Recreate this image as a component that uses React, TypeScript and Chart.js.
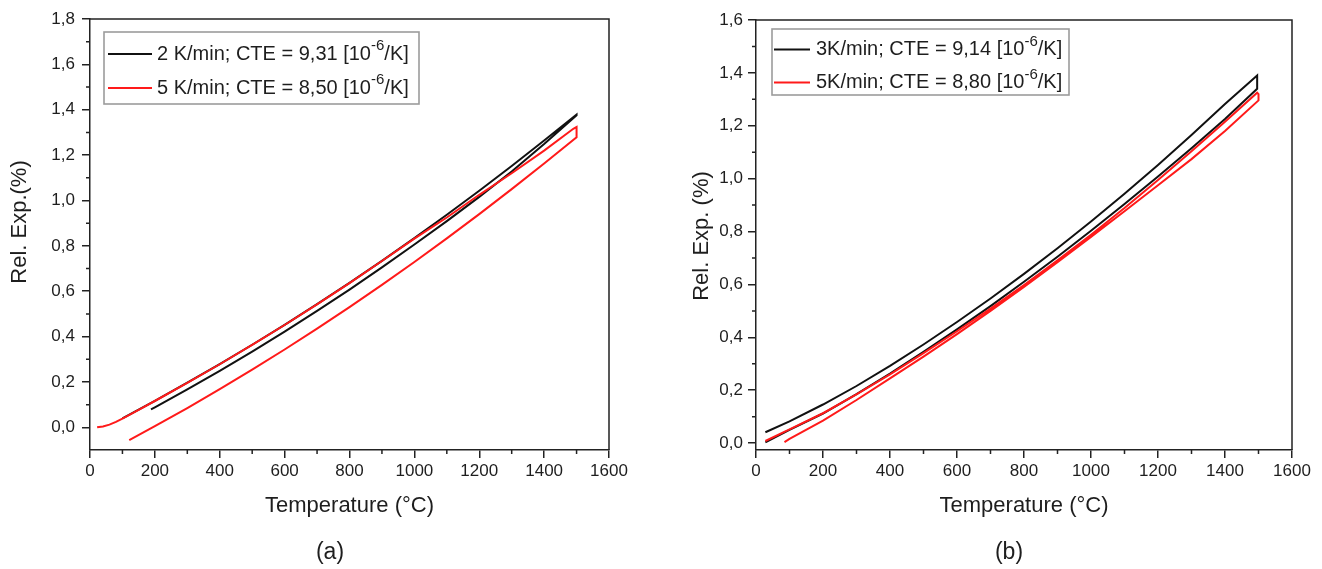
import React, { useEffect, useRef } from "react";
import { Chart, registerables } from "chart.js";

Chart.register(...registerables);

// ---------------- Data: chart (a) ----------------
const A_X_TICKS = [0, 200, 400, 600, 800, 1000, 1200, 1400, 1600];
const A_X_MINOR = [100, 300, 500, 700, 900, 1100, 1300, 1500];
const A_Y_TICKS = [0, 0.2, 0.4, 0.6, 0.8, 1.0, 1.2, 1.4, 1.6, 1.8];
const A_Y_MINOR = [0.1, 0.3, 0.5, 0.7, 0.9, 1.1, 1.3, 1.5, 1.7];

// 2 K/min (black): heating then cooling
const A_BLACK_T = [100, 150, 200, 300, 400, 500, 600, 700, 800, 900, 1000, 1100, 1200, 1300, 1400, 1500,
  1500, 1400, 1300, 1200, 1100, 1000, 900, 800, 700, 600, 500, 400, 300, 200, 188];
const A_BLACK_Y = [0.039, 0.078, 0.117, 0.197, 0.279, 0.364, 0.452, 0.543, 0.637, 0.734, 0.834, 0.937, 1.043, 1.152, 1.264, 1.379,
  1.376, 1.249, 1.128, 1.016, 0.909, 0.806, 0.705, 0.607, 0.513, 0.422, 0.334, 0.249, 0.167, 0.088, 0.079];

// 5 K/min (red): heating, hold, cooling
const A_RED_T = [22, 40, 60, 80, 100, 150, 200, 300, 400, 500, 600, 700, 800, 900, 1000, 1100, 1200, 1300, 1400, 1490, 1500,
  1500, 1400, 1300, 1200, 1100, 1000, 900, 800, 700, 600, 500, 400, 300, 200, 121];
const A_RED_Y = [0.0, 0.004, 0.012, 0.024, 0.038, 0.077, 0.116, 0.196, 0.278, 0.363, 0.451, 0.542, 0.636, 0.733, 0.832, 0.925, 1.025, 1.12, 1.22, 1.316, 1.324,
  1.279, 1.163, 1.05, 0.94, 0.833, 0.729, 0.628, 0.53, 0.435, 0.343, 0.254, 0.168, 0.085, 0.005, -0.057];

const A_LEGEND_PRE = ["2 K/min; CTE = 9,31 [10", "5 K/min; CTE = 8,50 [10"];
const A_LEGEND_SUP = ["-6", "-6"];
const A_LEGEND_POST = ["/K]", "/K]"];

// ---------------- Data: chart (b) ----------------
const B_X_TICKS = [0, 200, 400, 600, 800, 1000, 1200, 1400, 1600];
const B_X_MINOR = [100, 300, 500, 700, 900, 1100, 1300, 1500];
const B_Y_TICKS = [0, 0.2, 0.4, 0.6, 0.8, 1.0, 1.2, 1.4, 1.6];
const B_Y_MINOR = [0.1, 0.3, 0.5, 0.7, 0.9, 1.1, 1.3, 1.5];

// 3 K/min (black)
const B_BLACK_T = [28, 100, 200, 300, 400, 500, 600, 700, 800, 900, 1000, 1100, 1200, 1300, 1400, 1496,
  1496, 1400, 1300, 1200, 1100, 1000, 900, 800, 700, 600, 500, 400, 300, 200, 100, 28];
const B_BLACK_Y = [0.041, 0.082, 0.146, 0.216, 0.292, 0.373, 0.458, 0.547, 0.64, 0.737, 0.838, 0.943, 1.052, 1.165, 1.282, 1.39,
  1.34, 1.226, 1.115, 1.008, 0.904, 0.803, 0.705, 0.61, 0.518, 0.43, 0.345, 0.263, 0.185, 0.112, 0.05, 0.003];

// 5 K/min (red)
const B_RED_T = [28, 100, 200, 300, 400, 500, 600, 700, 800, 900, 1000, 1100, 1200, 1300, 1400, 1496, 1500,
  1500, 1400, 1300, 1200, 1100, 1000, 900, 800, 700, 600, 500, 400, 300, 200, 100, 85];
const B_RED_Y = [0.008, 0.052, 0.113, 0.184, 0.26, 0.34, 0.423, 0.509, 0.598, 0.691, 0.788, 0.889, 0.995, 1.104, 1.215, 1.325, 1.32,
  1.296, 1.18, 1.074, 0.975, 0.877, 0.78, 0.684, 0.591, 0.5, 0.412, 0.327, 0.245, 0.163, 0.085, 0.016, 0.004];

const B_LEGEND_PRE = ["3K/min; CTE = 9,14 [10", "5K/min; CTE = 8,80 [10"];
const B_LEGEND_SUP = ["-6", "-6"];
const B_LEGEND_POST = ["/K]", "/K]"];

// ---------------- Styles ----------------
const FONT = "'Liberation Sans', Arial, Helvetica, sans-serif";
const AXIS = "#222222";
const TEXT = "#1e1e1e";
const BLACK = "#111111";
const RED = "#ff1a1a";

const zip = (xs: number[], ys: number[]) => xs.map((x, i) => ({ x, y: ys[i] }));

const framePlugin = {
  id: "frame",
  afterDraw(chart: any, _args: any, opts: any) {
    const { ctx, chartArea } = chart;
    const { left, top, right, bottom } = chartArea;
    const xs = chart.scales.x;
    const ys = chart.scales.y;
    ctx.save();
    ctx.strokeStyle = AXIS;
    ctx.lineWidth = 1.5;
    ctx.beginPath();
    ctx.moveTo(left, top);
    ctx.lineTo(right, top);
    ctx.lineTo(right, bottom);
    ctx.stroke();
    ctx.beginPath();
    for (const v of opts.xMinor) {
      const px = xs.getPixelForValue(v);
      ctx.moveTo(px, bottom);
      ctx.lineTo(px, bottom + 4);
    }
    for (const v of opts.yMinor) {
      const py = ys.getPixelForValue(v);
      ctx.moveTo(left - 4, py);
      ctx.lineTo(left, py);
    }
    ctx.stroke();

    // y-axis title
    ctx.save();
    ctx.translate(opts.yTitleX, opts.yTitleY);
    ctx.rotate(-Math.PI / 2);
    ctx.fillStyle = TEXT;
    ctx.font = `22px ${FONT}`;
    ctx.textAlign = "center";
    ctx.textBaseline = "middle";
    ctx.fillText(opts.yTitle, 0, 0);
    ctx.restore();

    // legend
    const lg = opts.legend;
    const bx = left + lg.dx;
    const by = top + lg.dy;
    ctx.fillStyle = "#ffffff";
    ctx.fillRect(bx, by, lg.w, lg.h);
    ctx.strokeStyle = "#9c9c9c";
    ctx.lineWidth = 1.6;
    ctx.strokeRect(bx, by, lg.w, lg.h);
    for (let i = 0; i < lg.pre.length; i++) {
      const ry = by + lg.rows[i];
      ctx.strokeStyle = lg.colors[i];
      ctx.lineWidth = 2;
      ctx.beginPath();
      ctx.moveTo(bx + lg.l0, ry);
      ctx.lineTo(bx + lg.l1, ry);
      ctx.stroke();
      ctx.fillStyle = TEXT;
      ctx.textAlign = "left";
      ctx.textBaseline = "middle";
      let tx = bx + lg.tx;
      ctx.font = `${lg.size}px ${FONT}`;
      ctx.fillText(lg.pre[i], tx, ry);
      tx += ctx.measureText(lg.pre[i]).width;
      ctx.font = `${lg.supSize}px ${FONT}`;
      ctx.fillText(lg.sup[i], tx, ry - lg.supRise);
      tx += ctx.measureText(lg.sup[i]).width;
      ctx.font = `${lg.size}px ${FONT}`;
      ctx.fillText(lg.post[i], tx, ry);
    }
    ctx.restore();
  },
};

type Params = {
  width: number;
  height: number;
  padTop: number;
  padRight: number;
  yWidth: number;
  xHeight: number;
  yMin: number;
  yMax: number;
  xTicks: number[];
  yTicks: number[];
  xMinor: number[];
  yMinor: number[];
  yTitle: string;
  yTitleX: number;
  yTitleY: number;
  yTickPad: number;
  black: { x: number; y: number }[];
  red: { x: number; y: number }[];
  legend: any;
};

function makeConfig(p: Params): any {
  return {
    type: "scatter",
    data: {
      datasets: [
        { data: p.red, borderColor: RED, borderWidth: 2, showLine: true, pointRadius: 0, fill: false, tension: 0 },
        { data: p.black, borderColor: BLACK, borderWidth: 2, showLine: true, pointRadius: 0, fill: false, tension: 0 },
      ],
    },
    options: {
      responsive: false,
      animation: false,
      events: [],
      layout: { padding: { left: 0, top: p.padTop, right: p.padRight, bottom: 0 } },
      plugins: {
        legend: { display: false },
        tooltip: { enabled: false },
        frame: { xMinor: p.xMinor, yMinor: p.yMinor, legend: p.legend, yTitle: p.yTitle, yTitleX: p.yTitleX, yTitleY: p.yTitleY },
      },
      scales: {
        x: {
          type: "linear",
          min: 0,
          max: 1600,
          afterBuildTicks: (s: any) => {
            s.ticks = p.xTicks.map((v) => ({ value: v }));
          },
          afterFit: (s: any) => {
            s.height = p.xHeight;
          },
          ticks: {
            autoSkip: false,
            maxRotation: 0,
            padding: 3,
            color: TEXT,
            font: { size: 17, family: FONT },
            callback: (v: any) => String(v),
          },
          grid: { display: true, drawOnChartArea: false, drawTicks: true, tickLength: 8, color: AXIS, lineWidth: 1.5 },
          border: { display: true, color: AXIS, width: 1.5 },
          title: {
            display: true,
            text: "Temperature (°C)",
            color: TEXT,
            font: { size: 22, family: FONT },
            padding: { top: 0, bottom: 50 },
          },
        },
        y: {
          type: "linear",
          min: p.yMin,
          max: p.yMax,
          afterBuildTicks: (s: any) => {
            s.ticks = p.yTicks.map((v) => ({ value: v }));
          },
          afterFit: (s: any) => {
            s.width = p.yWidth;
          },
          ticks: {
            autoSkip: false,
            padding: p.yTickPad,
            color: TEXT,
            font: { size: 17, family: FONT },
            callback: (v: any) => Number(v).toFixed(1).replace(".", ","),
          },
          grid: { display: true, drawOnChartArea: false, drawTicks: true, tickLength: 8, color: AXIS, lineWidth: 1.5 },
          border: { display: true, color: AXIS, width: 1.5 },
          title: { display: false },
        },
      },
    },
    plugins: [framePlugin],
  };
}

function Panel({ params, left }: { params: Params; left: number }) {
  const ref = useRef<HTMLCanvasElement | null>(null);
  useEffect(() => {
    if (!ref.current) return;
    const chart = new Chart(ref.current, makeConfig(params));
    return () => chart.destroy();
  }, []);
  return (
    <div style={{ position: "absolute", left, top: 0, width: params.width, height: params.height }}>
      <canvas ref={ref} width={params.width} height={params.height} style={{ display: "block" }} />
    </div>
  );
}

const paramsA: Params = {
  width: 660,
  height: 569,
  padTop: 19,
  padRight: 51,
  yWidth: 90,
  xHeight: 119,
  yMin: -0.1,
  yMax: 1.8,
  xTicks: A_X_TICKS,
  yTicks: A_Y_TICKS,
  xMinor: A_X_MINOR,
  yMinor: A_Y_MINOR,
  yTitle: "Rel. Exp.(%)",
  yTitleX: 20,
  yTitleY: 222,
  yTickPad: 7,
  black: zip(A_BLACK_T, A_BLACK_Y),
  red: zip(A_RED_T, A_RED_Y),
  legend: {
    dx: 14, dy: 13, w: 315, h: 72, rows: [22, 56], l0: 4, l1: 48, tx: 53,
    size: 20, supSize: 15, supRise: 8,
    colors: [BLACK, RED], pre: A_LEGEND_PRE, sup: A_LEGEND_SUP, post: A_LEGEND_POST,
  },
};

const paramsB: Params = {
  width: 662,
  height: 569,
  padTop: 20,
  padRight: 30,
  yWidth: 96,
  xHeight: 119,
  yMin: -0.026,
  yMax: 1.6,
  xTicks: B_X_TICKS,
  yTicks: B_Y_TICKS,
  xMinor: B_X_MINOR,
  yMinor: B_Y_MINOR,
  yTitle: "Rel. Exp. (%)",
  yTitleX: 42,
  yTitleY: 236,
  yTickPad: 5,
  black: zip(B_BLACK_T, B_BLACK_Y),
  red: zip(B_RED_T, B_RED_Y),
  legend: {
    dx: 16, dy: 9, w: 297, h: 66, rows: [20.6, 53.6], l0: 2, l1: 38, tx: 44,
    size: 20, supSize: 15, supRise: 8,
    colors: [BLACK, RED], pre: B_LEGEND_PRE, sup: B_LEGEND_SUP, post: B_LEGEND_POST,
  },
};

const captionStyle = (cx: number): React.CSSProperties => ({
  position: "absolute",
  left: cx - 40,
  width: 80,
  top: 537,
  textAlign: "center",
  fontFamily: FONT,
  fontSize: 23,
  lineHeight: "28px",
  color: TEXT,
});

export default function App() {
  return (
    <div style={{ position: "absolute", left: 0, top: 0, width: 1322, height: 569, background: "#ffffff", overflow: "hidden" }}>
      <Panel params={paramsA} left={0} />
      <Panel params={paramsB} left={660} />
      <div style={captionStyle(330)}>(a)</div>
      <div style={captionStyle(1009)}>(b)</div>
    </div>
  );
}
